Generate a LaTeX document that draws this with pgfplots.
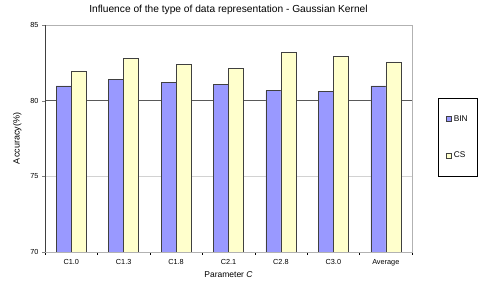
\documentclass[border=0pt]{standalone}
\usepackage{pgfplots}
\pgfplotsset{compat=1.18}
\usepackage{fontspec}
\setmainfont{Liberation Sans}
\definecolor{binc}{HTML}{9999FF}
\definecolor{csc}{HTML}{FFFFCC}
\definecolor{edgec}{HTML}{404040}
\begin{document}
\begin{tikzpicture}
\useasboundingbox (0,0) rectangle (486pt,288pt);
\begin{axis}[
  at={(45pt,36pt)}, anchor=south west,
  scale only axis, width=367pt, height=227pt,
  ybar=0pt, bar width=15pt,
  xmin=-0.5, xmax=6.5, ymin=70, ymax=85,
  xtick={0,...,6},
  xticklabels={C1.0,C1.3,C1.8,C2.1,C2.8,C3.0,Average},
  minor xtick={-0.5,0.5,...,6.5},
  major x tick style={draw=none},
  minor x tick style={black, thin},
  minor tick length=3pt,
  ytick={70,75,80,85},
  major tick length=3pt,
  tick align=outside,
  ytick pos=left, xtick pos=bottom,
  ymajorgrids, grid style={gray!35, line width=0.6pt},
  extra y ticks={80}, extra y tick labels={},
  extra y tick style={grid style={gray!70!black, line width=1.2pt}, major tick length=0pt},
  ticklabel style={font=\fontsize{7.3}{8}\selectfont},
  /pgf/number format/assume math mode=true,
  xticklabel style={yshift=-1pt},
  axis line style={gray!60, line width=0.8pt},
  title={Influence of the type of data representation - Gaussian Kernel},
  title style={font=\fontsize{10.2}{11}\selectfont, at={(0.5,1)}, yshift=1pt},
  xlabel={Parameter \textit{C}},
  xlabel style={font=\fontsize{8.5}{9}\selectfont, yshift=1pt},
  ylabel={Accuracy(\%)},
  ylabel style={font=\fontsize{9}{10}\selectfont, yshift=-1pt},
  legend style={at={(1.0708,0.678)}, anchor=north west, draw=black, line width=0.6pt,
    font=\fontsize{8.3}{9}\selectfont, inner xsep=8pt, inner ysep=15pt, row sep=25pt,
    cells={anchor=west}},
  legend image code/.code={\draw[#1, line width=0.5pt] (0pt,-2.5pt) rectangle (5pt,2.5pt);},
]
\addplot[fill=binc, draw=edgec, line width=0.5pt] coordinates
  {(0,80.97) (1,81.39) (2,81.22) (3,81.10) (4,80.66) (5,80.60) (6,80.97)};
\addplot[fill=csc, draw=edgec, line width=0.5pt] coordinates
  {(0,81.97) (1,82.81) (2,82.41) (3,82.12) (4,83.18) (5,82.94) (6,82.56)};
\legend{BIN,CS}
\draw[black!75, line width=0.9pt] (rel axis cs:0,1) -- (rel axis cs:0,0) -- (rel axis cs:1,0);
\end{axis}
\end{tikzpicture}
\end{document}
